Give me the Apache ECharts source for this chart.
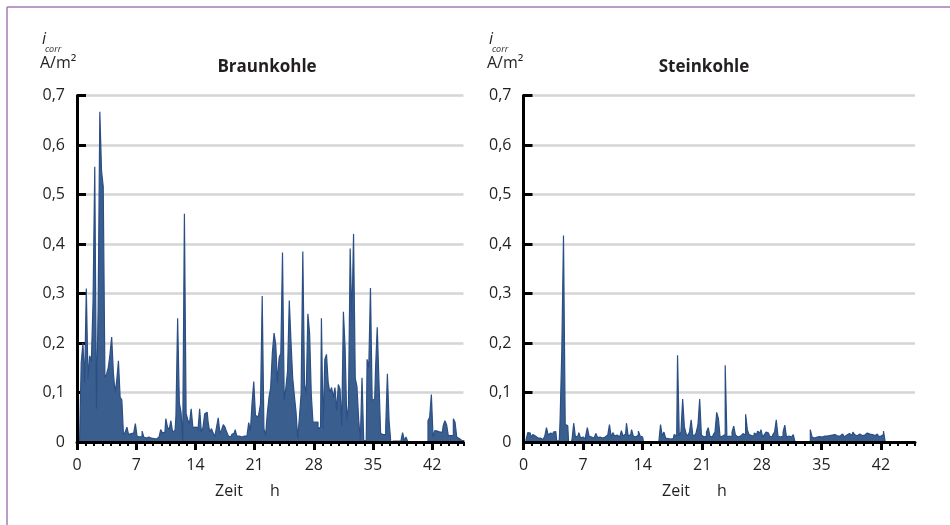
<!DOCTYPE html>
<html>
<head>
<meta charset="utf-8">
<script src="https://cdn.jsdelivr.net/npm/echarts@6/dist/echarts.min.js"></script>
<style>
  html, body { margin: 0; padding: 0; background: #fff; }
  #chart { width: 950px; height: 525px; }
</style>
</head>
<body>
<div id="chart"></div>
<script>
// Corrosion current density i_corr (A/m²), sampled every 0.2 h
const STEP_H = 0.2;

// Braunkohle, one line per hour (x.0, x.2, x.4, x.6, x.8)
const braunkohle = [
  0, 0, 0, 0.16, 0.20,
  0.12, 0.31, 0.127, 0.174, 0.163,
  0.286, 0.556, 0.067, 0.27, 0.667,
  0.548, 0.516, 0.13, 0.137, 0.15,
  0.177, 0.212, 0.14, 0.10, 0.124,
  0.164, 0.09, 0.085, 0.013, 0.02,
  0.03, 0.015, 0.017, 0.018, 0.015,
  0.037, 0.012, 0.01, 0.012, 0.022,
  0.01, 0.008, 0.01, 0.006, 0.008,
  0.007, 0.009, 0.006, 0.01, 0.012,
  0.025, 0.018, 0.02, 0.047, 0.03,
  0.025, 0.043, 0.02, 0.024, 0.053,
  0.25, 0.079, 0.06, 0, 0.461,
  0.057, 0.045, 0.037, 0.067, 0.029,
  0.03, 0.029, 0.023, 0.067, 0.02,
  0.03, 0.057, 0.06, 0.04, 0.02,
  0.027, 0.018, 0.011, 0.03, 0.049,
  0.017, 0.025, 0.035, 0.03, 0.02,
  0.012, 0.01, 0.015, 0.018, 0.025,
  0.012, 0.012, 0.01, 0.013, 0.012,
  0.012, 0.015, 0.039, 0.022, 0.078,
  0.122, 0.054, 0.05, 0.057, 0.077,
  0.295, 0.027, 0.013, 0.057, 0.09,
  0.11, 0.18, 0.22, 0.197, 0.12,
  0.17, 0.18, 0.383, 0.084, 0.11,
  0.144, 0.286, 0.204, 0.13, 0.094,
  0.06, 0.007, 0.05, 0.097, 0.385,
  0.117, 0.097, 0.259, 0.22, 0.097,
  0.04, 0.04, 0.04, 0.027, 0.03,
  0.25, 0.027, 0.167, 0.177, 0.12,
  0.10, 0.11, 0.09, 0.11, 0.064,
  0.116, 0.107, 0.033, 0.263, 0.19,
  0.043, 0.074, 0.391, 0.245, 0.42,
  0.129, 0.112, 0.047, 0.003, 0.13,
  0.003, 0.003, 0.167, 0.15, 0.311,
  0.084, 0.087, 0.147, 0.232, 0.124,
  0.017, 0.015, 0.015, 0.027, 0.138,
  0.043, 0, 0.002, 0.002, 0.002,
  0.002, 0.002, 0.002, 0.019, 0.003,
  0.01, 0.001, 0.001, 0.001, 0.001,
  0.001, 0.001, 0.001, 0.001, 0.001,
  0.001, 0.001, 0.001, 0.043, 0.05,
  0.096, 0.01, 0.023, 0.022, 0.02,
  0.017, 0.02, 0.033, 0.043, 0.035,
  0.013, 0.013, 0.013, 0.047, 0.04,
  0.01, 0.007, 0.003, 0.003, 0.003
];

// Steinkohle, one line per hour (x.0, x.2, x.4, x.6, x.8)
const steinkohle = [
  0, 0, 0.005, 0.019, 0.018,
  0.01, 0.015, 0.012, 0.008, 0.006,
  0.008, 0.005, 0.009, 0.012, 0.029,
  0.014, 0.018, 0.015, 0.02, 0.021,
  0.003, 0.002, 0.045, 0.184, 0.417,
  0.035, 0.033, 0, 0, 0.005,
  0.038, 0.01, 0.012, 0.019, 0.008,
  0.01, 0.006, 0.012, 0.029, 0.012,
  0.01, 0.008, 0.012, 0.017, 0.009,
  0.01, 0.008, 0.012, 0.01, 0.014,
  0.012, 0.035, 0.01, 0.019, 0.012,
  0.014, 0.01, 0.014, 0.023, 0.012,
  0.016, 0.038, 0.012, 0.015, 0.025,
  0.012, 0.01, 0.014, 0.022, 0.012,
  0.01, 0, 0, 0, 0,
  0, 0, 0, 0, 0,
  0, 0.035, 0.012, 0.02, 0.008,
  0.007, 0.006, 0.008, 0.007, 0.015,
  0.012, 0.175, 0.012, 0.02, 0.087,
  0.031, 0.017, 0.012, 0.02, 0.045,
  0.012, 0.015, 0.02, 0.035, 0.087,
  0.014, 0.01, 0.012, 0.02, 0.029,
  0.012, 0.01, 0.015, 0.02, 0.06,
  0.047, 0.01, 0.012, 0.015, 0.155,
  0.01, 0.012, 0.01, 0.02, 0.032,
  0.014, 0.01, 0.012, 0.016, 0.017,
  0.014, 0.056, 0.025, 0.015, 0.013,
  0.012, 0.018, 0.015, 0.022, 0.018,
  0.025, 0.01, 0.015, 0.02, 0.018,
  0.012, 0.01, 0.015, 0.02, 0.045,
  0.012, 0.01, 0.012, 0.02, 0.034,
  0.01, 0.012, 0.01, 0.012, 0.015,
  0, 0, 0, 0, 0,
  0, 0, 0, 0, 0.025,
  0.01, 0.008, 0.01, 0.009, 0.011,
  0.01, 0.008, 0.012, 0.012, 0.01,
  0.013, 0.014, 0.011, 0.015, 0.012,
  0.014, 0.012, 0.016, 0.013, 0.01,
  0.014, 0.017, 0.015, 0.013, 0.02,
  0.015, 0.012, 0.016, 0.018, 0.013,
  0.014, 0.012, 0.018, 0.016, 0.012,
  0.015, 0.013, 0.012, 0.016, 0.011,
  0.012, 0.015, 0.022, 0, 0,
  0, 0, 0, 0, 0,
  0, 0, 0, 0, 0,
  0, 0, 0, 0, 0,
  0
];

const xMajorTicks = [0, 7, 14, 21, 28, 35, 42];
const panelTitles = ['Braunkohle', 'Steinkohle'];
const xAxisName = ['Zeit', 'h'];
const yUnit = ['i', 'corr', 'A/m²'];

const FONT = '"Open Sans", "Noto Sans", sans-serif';
const INK = '#231f20';
const AREA = '#3a5f8f';
const LINE = '#2b4f85';

const toPairs = arr => arr.map((v, i) => [Math.round(i * STEP_H * 10) / 10, v]);
const yFmt = v => (v === 0 ? '0' : v.toFixed(1).replace('.', ','));

const panels = [
  { left: 77, right: 486.5, xMax: 45.7, data: braunkohle, titleX: 262, unitX: 40, nameX: 215 },
  { left: 523.5, right: 35, xMax: 46, data: steinkohle, titleX: 699, unitX: 487, nameX: 662 }
];

const grid = [], xAxis = [], yAxis = [], series = [], title = [], graphic = [];

panels.forEach((p, k) => {
  grid.push({ left: p.left, right: p.right, top: 95.5, bottom: 83, containLabel: false });

  // minor hour ticks + axis line
  xAxis.push({
    type: 'value', gridIndex: k, position: 'bottom', min: 0, max: p.xMax, interval: 1, z: 5,
    axisLine: { show: true, onZero: false, lineStyle: { color: '#000', width: 3 } },
    axisTick: { show: true, length: 4, lineStyle: { color: '#000', width: 2 } },
    axisLabel: { show: false },
    splitLine: { show: false }
  });
  // major ticks every 7 h with labels
  xAxis.push({
    type: 'value', gridIndex: k, position: 'bottom', offset: 0, min: 0, max: p.xMax, interval: 7, z: 5,
    axisLine: { show: false, onZero: false },
    axisTick: { show: true, length: 8, customValues: xMajorTicks, lineStyle: { color: '#000', width: 3 } },
    axisLabel: {
      show: true, customValues: xMajorTicks, margin: 15,
      fontFamily: FONT, fontSize: 16, color: INK, formatter: v => String(v)
    },
    splitLine: { show: false }
  });

  yAxis.push({
    type: 'value', gridIndex: k, min: 0, max: 0.7, interval: 0.1, z: 1,
    axisLine: { show: true, lineStyle: { color: '#000', width: 3 } },
    axisTick: { show: true, inside: true, length: 9, lineStyle: { color: '#000', width: 3 } },
    axisLabel: { margin: 12, fontFamily: FONT, fontSize: 16, color: INK, formatter: yFmt },
    splitLine: { show: true, lineStyle: { color: '#d5d5d5', width: 2.5 } }
  });

  series.push({
    type: 'line', xAxisIndex: 2 * k, yAxisIndex: k,
    data: toPairs(p.data), showSymbol: false, symbol: 'none', sampling: 'none',
    step: 'middle',
    lineStyle: { color: LINE, width: 1.2 },
    areaStyle: { color: AREA, opacity: 1 },
    z: 3, animation: false
  });

  title.push({
    text: panelTitles[k], left: p.titleX, top: 54, textAlign: 'center',
    textStyle: { fontFamily: FONT, fontSize: 17, fontWeight: 'bold', color: INK }
  });

  graphic.push(
    { type: 'text', left: p.unitX + 2, top: 31, style: { text: yUnit[0], font: 'italic 16px ' + FONT, fill: INK } },
    { type: 'text', left: p.unitX + 5, top: 45, style: { text: yUnit[1], font: 'italic 9px ' + FONT, fill: INK } },
    { type: 'text', left: p.unitX, top: 55, style: { text: yUnit[2], font: '16px ' + FONT, fill: INK } },
    { type: 'text', left: p.nameX, top: 483, style: { text: xAxisName[0], font: '16px ' + FONT, fill: INK } },
    { type: 'text', left: p.nameX + 55, top: 483, style: { text: xAxisName[1], font: '16px ' + FONT, fill: INK } }
  );
});

// page frame
graphic.push(
  { type: 'line', shape: { x1: 7, y1: 7, x2: 950, y2: 7 }, style: { stroke: '#a57bb6', lineWidth: 1.5 } },
  { type: 'line', shape: { x1: 7, y1: 7, x2: 7, y2: 525 }, style: { stroke: '#a57bb6', lineWidth: 1.5 } }
);

const chart = echarts.init(document.getElementById('chart'), null, { renderer: 'canvas' });
chart.setOption({
  animation: false,
  backgroundColor: '#ffffff',
  grid, xAxis, yAxis, series, title, graphic
});
</script>
</body>
</html>
